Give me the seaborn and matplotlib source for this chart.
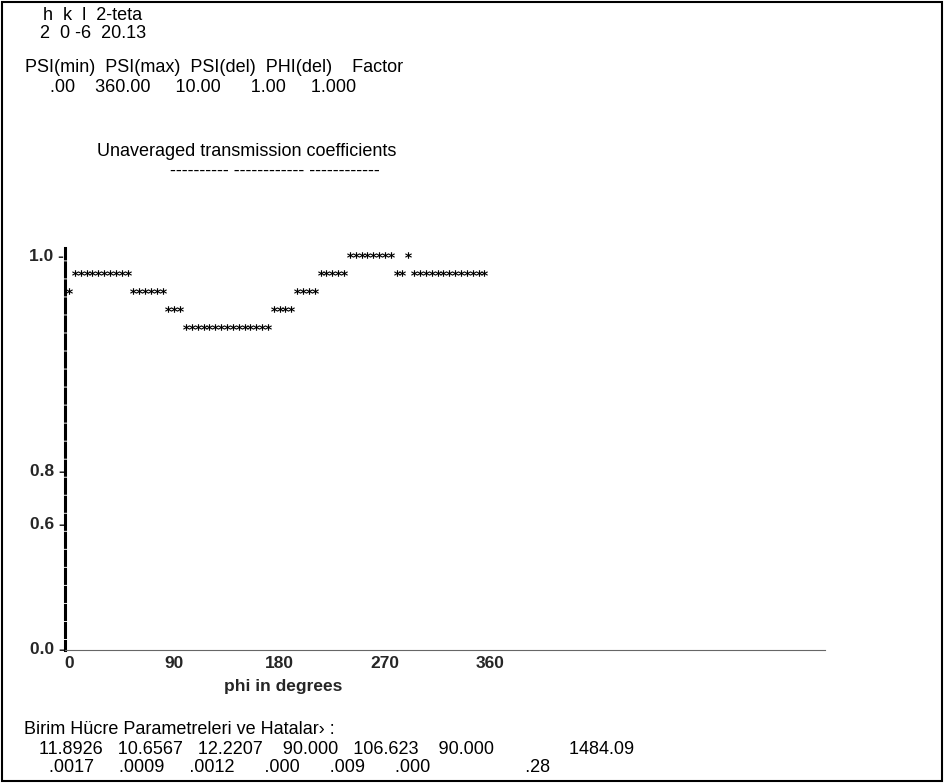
import matplotlib
matplotlib.use("Agg")
import matplotlib.pyplot as plt
import seaborn as sns
import pandas as pd
from matplotlib.patches import Rectangle

# text-plot columns: one column per 5 degrees of phi
phi = list(range(0, 360, 5))
# text line (0 = the 1.0 line at the top) holding the star of each column
star_row = [2,
            1, 1, 1, 1, 1, 1, 1, 1, 1, 1,
            2, 2, 2, 2, 2, 2,
            3, 3, 3,
            4, 4, 4, 4, 4, 4, 4, 4, 4, 4, 4, 4, 4, 4, 4,
            3, 3, 3, 3,
            2, 2, 2, 2,
            1, 1, 1, 1, 1,
            0, 0, 0, 0, 0, 0, 0, 0,
            1, 1,
            0,
            1, 1, 1, 1, 1, 1, 1, 1, 1, 1, 1, 1, 1]

# y labels of the text plot and the lines they sit on
ytick_rows = [0, 12, 15, 22]
ytick_labels = ["1.0 -", "0.8 -", "0.6 -", "0.0 -"]
xtick_vals = [0, 90, 180, 270, 360]

hkl_head = ["h", "k", "l", "2-teta"]
hkl_vals = ["2", "0", "-6", "20.13"]
psi_head = ["PSI(min)", "PSI(max)", "PSI(del)", "PHI(del)", "Factor"]
psi_vals = [".00", "360.00", "10.00", "1.00", "1.000"]
cell_vals = ["11.8926", "10.6567", "12.2207", "90.000", "106.623", "90.000", "1484.09"]
cell_errs = [".0017", ".0009", ".0012", ".000", ".009", ".000", ".28"]

df = pd.DataFrame({"phi": phi, "row": star_row})

sns.set_theme(style="white")
plt.rcParams["font.family"] = ["Liberation Sans", "DejaVu Sans"]

W, H = 944, 784
fig = plt.figure(figsize=(W / 100, H / 100), dpi=100)


def put(x, y, s, size=13, **kw):
    fig.text(x / W, 1 - y / H, s, va="center", ha="left", fontsize=size,
             color="black", **kw)


# header block (fixed-width lines of the original printout)
put(43, 15, "  ".join(hkl_head))
put(40, 34, "  ".join(hkl_vals).replace("  -", " -"))
put(15, 68, "".join(f"{s:>10}" for s in psi_head))
put(15, 87, "".join(f"{s:>10}" for s in psi_vals))
put(97, 152, "Unaveraged transmission coefficients")
put(170, 172, "---------- ------------ ------------")

# the plot itself
left, right, top, bottom = 65, 825, 248, 650
scale = 1.17  # pixels per degree
ax = fig.add_axes([left / W, 1 - bottom / H, (right - left) / W, (bottom - top) / H])
sns.scatterplot(data=df, x="phi", y="row", ax=ax, marker="$\\mathbf{*}$", s=24,
                color="black", linewidth=0, legend=False)
ax.set_xlim((left - 69) / scale, (right - 69) / scale)
ax.set_ylim(22.1, -0.4)
ax.set_facecolor("none")
for side in ["top", "right"]:
    ax.spines[side].set_visible(False)
ax.spines["left"].set_color("black")
ax.spines["left"].set_linewidth(2.2)
ax.spines["left"].set_linestyle((1.64, (4.6, 1.3)))
ax.spines["bottom"].set_color("#666666")
ax.spines["bottom"].set_linewidth(0.8)
ax.spines["bottom"].set_linestyle((0, (10, 1)))
ax.set_yticks(ytick_rows)
ax.set_yticklabels(ytick_labels, fontweight="bold", fontsize=12.5)
ax.set_xticks(xtick_vals)
ax.set_xticklabels([str(v) for v in xtick_vals], fontweight="bold", fontsize=12.5)
ax.tick_params(axis="both", length=0)
ax.tick_params(axis="y", pad=0.5)
ax.tick_params(axis="x", pad=4)
ax.set_xlabel("phi in degrees", fontweight="bold", fontsize=12.5)
ax.set_ylabel("")
ax.xaxis.set_label_coords((283 - left) / (right - left), -(686 - bottom) / (bottom - top))
ax.xaxis.label.set_va("center")

# unit cell parameters and their errors
put(24, 730, "Birim Hücre Parametreleri ve Hatalar› :")
put(24, 749, "".join(f"{s:>10}" for s in cell_vals[:6]) + f"{cell_vals[6]:>22}")
put(24, 768, "".join(f"{s:>10}" for s in cell_errs[:6]) + f"{cell_errs[6]:>22}")

# frame round the whole picture
fig.patches.append(Rectangle((1.5 / W, 3 / H), (W - 4) / W, (H - 5) / H,
                             transform=fig.transFigure, fill=False,
                             edgecolor="black", linewidth=1.5))

fig.savefig("out.png", dpi=100)
